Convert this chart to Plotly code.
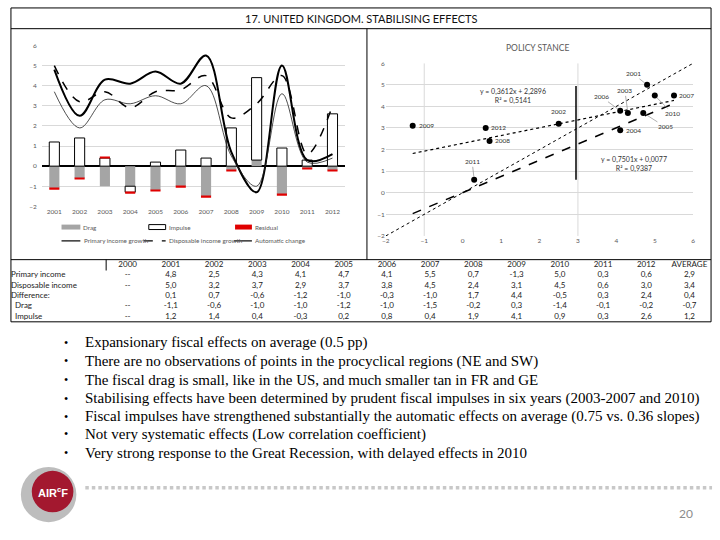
import plotly.graph_objects as go

# ---------------- data ----------------
years = ["2001", "2002", "2003", "2004", "2005", "2006", "2007", "2008", "2009", "2010", "2011", "2012"]
drag = [-1.1, -0.6, -1.0, -1.0, -1.2, -1.0, -1.5, -0.2, 0.3, -1.4, -0.1, -0.2]
impulse = [1.2, 1.4, 0.4, -0.3, 0.2, 0.8, 0.4, 1.9, 4.1, 0.9, 0.3, 2.6]
residual = [-0.08, -0.07, 0.08, -0.07, -0.06, -0.07, -0.07, -0.07, 0.0, -0.07, -0.06, -0.06]
primary = [4.8, 2.5, 4.3, 4.1, 4.7, 4.1, 5.5, 0.7, -1.3, 5.0, 0.3, 0.6]
disposable = [5.0, 3.2, 3.7, 2.9, 3.7, 3.8, 4.5, 2.4, 3.1, 4.5, 0.6, 3.0]
automatic = [3.7, 1.9, 3.3, 3.1, 3.5, 3.1, 4.0, 0.5, -1.0, 3.6, 0.2, 0.4]
difference = [0.1, 0.7, -0.6, -1.2, -1.0, -0.3, -1.0, 1.7, 4.4, -0.5, 0.3, 2.4]

averages = {"primary": 2.9, "disposable": 3.4, "difference": 0.4, "drag": -0.7, "impulse": 1.2}

# regression lines shown on the policy-stance chart
reg1 = {"slope": 0.3612, "intercept": 2.2896, "r2": 0.5141}
reg2 = {"slope": 0.7501, "intercept": 0.0077, "r2": 0.9387}
stance_line_x = 2.95
stance_line_y = [0.6, 4.95]

table_cols = ["2000"] + years + ["AVERAGE"]
row_labels = ["Primary income", "Disposable income", "Difference:", "\u00a0\u00a0Drag", "\u00a0\u00a0Impulse"]

bullets = [
    "Expansionary fiscal effects on average (0.5 pp)",
    "There are no observations of points in the procyclical regions (NE and SW)",
    "The fiscal drag is small, like in the US, and much smaller tan in FR and GE",
    "Stabilising effects have been determined by prudent fiscal impulses in six years (2003-2007 and 2010)",
    "Fiscal impulses have strengthened substantially the automatic effects on average (0.75 vs. 0.36 slopes)",
    "Not very systematic effects (Low correlation coefficient)",
    "Very strong response to the Great Recession, with delayed effects in 2010",
]

# label offsets (px) and whether a leader line is drawn, for the scatter labels
label_off = {
    "2001": (-14, -11, True), "2002": (0, -12, False), "2003": (-3, -22, True),
    "2004": (13, 0, False), "2005": (22, 14, True), "2006": (-19, -14, True),
    "2007": (13, 0, False), "2008": (13, 0, False), "2009": (14, 0, False),
    "2010": (18, 18, True), "2011": (-2, -18, True), "2012": (13, 0, False),
}

W, H = 720, 540
def px(x):
    return x / W
def py(y):
    return 1 - y / H

def fmt(v):
    return f"{v:.1f}".replace(".", ",")

def comma(v):
    return str(v).replace(".", ",")

CHART_FONT = "Lato"
GRID = "#d9d9d9"
TXT = "#595959"

fig = go.Figure()

# ---------------- left chart: bars ----------------
fig.add_trace(go.Bar(x=years, y=drag, name="Drag", marker=dict(color="#a5a5a5", line=dict(width=0)),
                     width=0.4, xaxis="x", yaxis="y", showlegend=False))
fig.add_trace(go.Bar(x=years, y=impulse, name="Impulse",
                     marker=dict(color="white", line=dict(color="black", width=1)),
                     width=0.4, xaxis="x", yaxis="y", showlegend=False))
fig.add_trace(go.Bar(x=years, y=residual, name="Residual", marker=dict(color="#e00000", line=dict(width=0)),
                     width=0.4, xaxis="x", yaxis="y", showlegend=False))
# lines
fig.add_trace(go.Scatter(x=years, y=primary, mode="lines", line=dict(color="black", width=2, shape="spline", smoothing=1),
                         xaxis="x", yaxis="y", showlegend=False))
fig.add_trace(go.Scatter(x=years, y=disposable, mode="lines",
                         line=dict(color="black", width=1.5, dash="dash", shape="spline", smoothing=1),
                         xaxis="x", yaxis="y", showlegend=False))
fig.add_trace(go.Scatter(x=years, y=automatic, mode="lines",
                         line=dict(color="#222222", width=0.8, shape="spline", smoothing=1),
                         xaxis="x", yaxis="y", showlegend=False))

# ---------------- right chart: policy stance ----------------
xmin, xmax = min(primary), max(primary)
fig.add_trace(go.Scatter(x=[-2, 6], y=[-2, 6], mode="lines", line=dict(color="black", width=1, dash="dot"),
                         xaxis="x2", yaxis="y2", showlegend=False))
fig.add_trace(go.Scatter(x=[xmin, xmax], y=[reg1["slope"] * xmin + reg1["intercept"], reg1["slope"] * xmax + reg1["intercept"]],
                         mode="lines", line=dict(color="black", width=1.2, dash="dot"),
                         xaxis="x2", yaxis="y2", showlegend=False))
fig.add_trace(go.Scatter(x=[xmin, xmax], y=[reg2["slope"] * xmin + reg2["intercept"], reg2["slope"] * xmax + reg2["intercept"]],
                         mode="lines", line=dict(color="black", width=1.5, dash="dash"),
                         xaxis="x2", yaxis="y2", showlegend=False))
fig.add_trace(go.Scatter(x=[stance_line_x, stance_line_x], y=stance_line_y, mode="lines",
                         line=dict(color="black", width=1.5), xaxis="x2", yaxis="y2", showlegend=False))
fig.add_trace(go.Scatter(x=primary, y=disposable, mode="markers", marker=dict(color="black", size=6),
                         xaxis="x2", yaxis="y2", showlegend=False))

# ---------------- table (text traces on their own axes) ----------------
ncol = len(table_cols)
col_x = [i + 0.5 for i in range(ncol)]
header_y = 0.0
tfont = dict(family=CHART_FONT, size=8, color="#222")
fig.add_trace(go.Scatter(x=col_x, y=[header_y] * ncol, mode="text", text=table_cols, textfont=tfont,
                         cliponaxis=False, xaxis="x3", yaxis="y3", showlegend=False))
rows = [
    ["--"] + [fmt(v) for v in primary] + [fmt(averages["primary"])],
    ["--"] + [fmt(v) for v in disposable] + [fmt(averages["disposable"])],
    [None] + [fmt(v) for v in difference] + [fmt(averages["difference"])],
    ["--"] + [fmt(v) for v in drag] + [fmt(averages["drag"])],
    ["--"] + [fmt(v) for v in impulse] + [fmt(averages["impulse"])],
]
for r, vals in enumerate(rows):
    xs = [c for c, v in zip(col_x, vals) if v is not None]
    ts = [v for v in vals if v is not None]
    fig.add_trace(go.Scatter(x=xs, y=[r + 1] * len(xs), mode="text", text=ts, textfont=tfont,
                             cliponaxis=False, xaxis="x3", yaxis="y3", showlegend=False))
fig.add_trace(go.Scatter(x=[-2.2] * len(row_labels), y=list(range(1, len(row_labels) + 1)), mode="text",
                         text=row_labels, textposition="middle right", textfont=tfont,
                         cliponaxis=False, xaxis="x3", yaxis="y3", showlegend=False))

# ---------------- annotations ----------------
ann = []
def pann(text, x, y, font, xanchor="center"):
    ann.append(dict(text=text, x=px(x), y=py(y), xref="paper", yref="paper", xanchor=xanchor, yanchor="middle",
                    showarrow=False, font=font))

pann("17. UNITED KINGDOM. STABILISING EFFECTS", 360, 15, dict(family=CHART_FONT, size=11, color="#111"))
pann("POLICY STANCE", 538, 45, dict(family=CHART_FONT, size=8.5, color=TXT))
for i, yr in enumerate(years):
    ax_, ay_, lead = label_off[yr]
    ann.append(dict(text=yr, x=primary[i], y=disposable[i], xref="x2", yref="y2",
                    showarrow=True, arrowhead=0, arrowwidth=0.7,
                    arrowcolor="#8c8c8c" if lead else "rgba(0,0,0,0)",
                    ax=ax_, ay=ay_, standoff=3,
                    font=dict(family=CHART_FONT, size=6.5, color="#333")))
ann.append(dict(text=f"y = {comma(reg1['slope'])}x + {comma(reg1['intercept'])}<br>R² = {comma(reg1['r2'])}",
                x=1.3, y=4.47, xref="x2", yref="y2", showarrow=False,
                font=dict(family=CHART_FONT, size=7, color="#333")))
ann.append(dict(text=f"y = {comma(reg2['slope'])}x + {comma(reg2['intercept'])}<br>R² = {comma(reg2['r2'])}",
                x=4.45, y=1.32, xref="x2", yref="y2", showarrow=False,
                font=dict(family=CHART_FONT, size=7, color="#333")))

# manual legend for left chart
shapes = []
leg_font = dict(family=CHART_FONT, size=6.3, color=TXT)
def leg_box(x0, x1, yc, fill, line):
    shapes.append(dict(type="rect", xref="paper", yref="paper", x0=px(x0), x1=px(x1), y0=py(yc + 2.5), y1=py(yc - 2.5),
                       fillcolor=fill, line=dict(color=line, width=1 if line != fill else 0)))
def leg_line(x0, x1, yc, dash, width):
    shapes.append(dict(type="line", xref="paper", yref="paper", x0=px(x0), x1=px(x1), y0=py(yc), y1=py(yc),
                       line=dict(color="black", width=width, dash=dash)))
def leg_text(x, yc, t):
    pann(t, x, yc, leg_font, xanchor="left")

leg_box(58, 77, 226, "#a5a5a5", "#a5a5a5"); leg_text(78, 226, "Drag")
leg_box(146, 163, 226, "white", "black"); leg_text(164, 226, "Impulse")
leg_box(233, 250, 226, "#e00000", "#e00000"); leg_text(251, 226, "Residual")
leg_line(58, 77, 240, "solid", 1.2); leg_text(79, 240, "Primary income growth")
leg_line(141, 163, 240, "dash", 1.2); leg_text(164, 240, "Disposable income growth")
leg_line(232, 250, 240, "solid", 1.2); leg_text(251, 240, "Automatic change")

# bullets
bullet_y = [343, 362, 381, 400, 418, 436, 455]
for t, yy in zip(bullets, bullet_y):
    pann("•", 63, yy, dict(family="Liberation Serif", size=12, color="black"))
    pann(t, 80, yy, dict(family="Liberation Serif", size=15, color="black"), xanchor="left")

# logo text and page number
pann("<b>AIR<sup>c</sup>F</b>", 49, 494, dict(family="Liberation Sans", size=11, color="white"))
pann("20", 688, 516, dict(family="Lato", size=12, color="#8c8c8c"))

# frame / table border shapes
def pline(x0, y0, x1, y1, color="black", width=1):
    shapes.append(dict(type="line", xref="paper", yref="paper", x0=px(x0), y0=py(y0), x1=px(x1), y1=py(y1),
                       line=dict(color=color, width=width)))
pline(7, 4, 713, 4)
pline(7, 4, 7, 322)
pline(713, 4, 713, 322)
pline(7, 25, 713, 25)
pline(366, 25, 366, 259)
pline(7, 259, 713, 259)
pline(103, 259, 103, 270)
pline(7, 322, 713, 322)

# extra vertical gridlines of the policy-stance chart
for gx in [-1, 3]:
    shapes.append(dict(type="line", xref="x2", yref="y2", x0=gx, x1=gx, y0=-2, y1=6,
                       line=dict(color=GRID, width=1), layer="below"))

# logo circles
shapes.append(dict(type="circle", xref="paper", yref="paper", x0=px(17), x1=px(73), y0=py(525), y1=py(469),
                   fillcolor="#bdbdbd", line=dict(width=0)))
shapes.append(dict(type="circle", xref="paper", yref="paper", x0=px(28), x1=px(70), y0=py(515), y1=py(473),
                   fillcolor="#a3182f", line=dict(width=0)))
# dotted separator
shapes.append(dict(type="line", xref="paper", yref="paper", x0=px(82), x1=px(714), y0=py(490), y1=py(490),
                   line=dict(color="#c8c8c8", width=3.5, dash="3.5px,3px")))

axis_font = dict(family=CHART_FONT, size=6.5, color=TXT)
fig.update_layout(
    width=W, height=H, margin=dict(l=0, r=0, t=0, b=0),
    paper_bgcolor="white", plot_bgcolor="white",
    barmode="relative", bargap=0.6,
    xaxis=dict(domain=[px(38), px(344)], type="category", range=[-0.5, 11.5], showgrid=False,
               tickfont=axis_font, ticks="", showline=False, zeroline=False),
    yaxis=dict(domain=[py(205), py(42)], range=[-2, 6], dtick=1, showgrid=True, gridcolor=GRID, gridwidth=1,
               zeroline=True, zerolinecolor="black", zerolinewidth=1.5, tickfont=axis_font, ticks="",
               ticklabelstandoff=4),
    xaxis2=dict(domain=[px(385), px(695)], range=[-2, 6], dtick=1, showgrid=False, zeroline=False,
                tickfont=axis_font, anchor="y2"),
    yaxis2=dict(domain=[py(235), py(60)], range=[-2, 6], dtick=1, showgrid=True, gridcolor=GRID, zeroline=False,
                tickfont=axis_font, anchor="x2"),
    xaxis3=dict(domain=[px(7), px(713)], range=[-2.2, ncol], visible=False, anchor="y3"),
    yaxis3=dict(domain=[py(322), py(259)], range=[5.5, -0.5], visible=False, anchor="x3"),
    annotations=ann, shapes=shapes,
)

fig.write_html("out.html")
